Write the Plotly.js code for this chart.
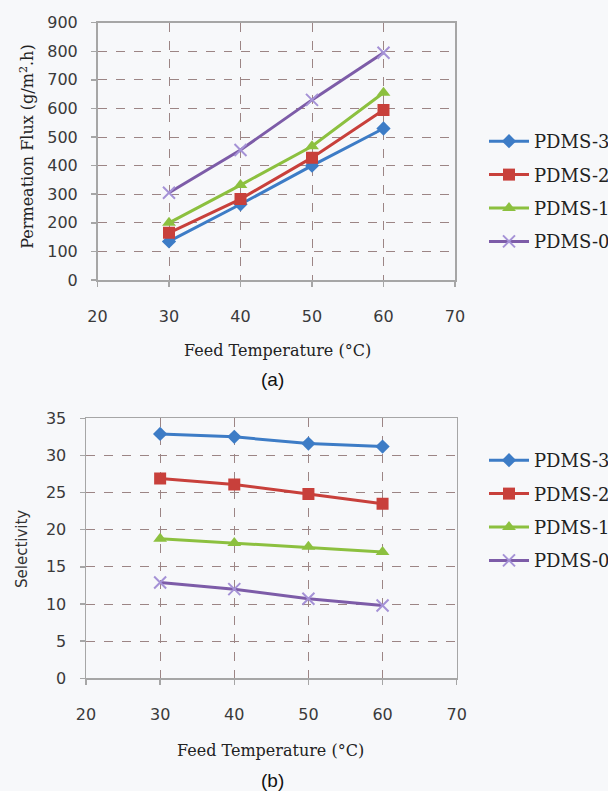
<!DOCTYPE html>
<html>
<head>
<meta charset="utf-8">
<script src="https://cdn.plot.ly/plotly-3.0.1.min.js"></script>
<style>
  html, body { margin: 0; padding: 0; background: #f7f8fa; }
  #chart { width: 608px; height: 791px; }
</style>
</head>
<body>
<div id="chart"></div>
<script>
// ---- Data ----
const temps = [30, 40, 50, 60];
const seriesNames = ["PDMS-3", "PDMS-2", "PDMS-1", "PDMS-0"];

const flux_pdms3 = [135, 265, 400, 530];
const flux_pdms2 = [165, 283, 428, 595];
const flux_pdms1 = [200, 332, 468, 655];
const flux_pdms0 = [305, 455, 630, 795];

const sel_pdms3 = [32.9, 32.5, 31.6, 31.2];
const sel_pdms2 = [26.9, 26.1, 24.8, 23.5];
const sel_pdms1 = [18.8, 18.2, 17.7, 17.0];
const sel_pdms0 = [12.9, 12.0, 10.7, 9.8];

const xTicks = [20, 30, 40, 50, 60, 70];

// ---- Styles ----
const colors = ["#3d7cc6", "#c8403b", "#8cc03f", "#7d5ca8"];
const markerStyles = [
  {symbol: "diamond", size: 11, color: colors[0]},
  {symbol: "square", size: 12, color: colors[1]},
  {symbol: "triangle-up", size: 12, color: colors[2]},
  {symbol: "x-thin-open", size: 12, color: "#a592d6", line: {color: "#a592d6", width: 2}}
];

const W = 608, H = 791;
const px = v => v / W;
const py = v => 1 - v / H;

const fluxData = [flux_pdms3, flux_pdms2, flux_pdms1, flux_pdms0];
const selData = [sel_pdms3, sel_pdms2, sel_pdms1, sel_pdms0];

const traces = [];
fluxData.forEach((ys, i) => {
  traces.push({
    x: temps, y: ys, name: seriesNames[i], type: "scatter", mode: "lines+markers",
    xaxis: "x", yaxis: "y", legend: "legend", legendgroup: "a" + i,
    line: {color: colors[i], width: 3},
    marker: markerStyles[i]
  });
});
selData.forEach((ys, i) => {
  traces.push({
    x: temps, y: ys, name: seriesNames[i], type: "scatter", mode: "lines+markers",
    xaxis: "x2", yaxis: "y2", legend: "legend2", legendgroup: "b" + i,
    line: {color: colors[i], width: 3},
    marker: markerStyles[i]
  });
});

const tickFont = {family: "DejaVu Sans", size: 16, color: "#3a3a3a"};
const gridColor = "#9c8585";
const axisLine = "#a6a6a6";

function xAxis(domain, anchor) {
  return {
    domain: domain, anchor: anchor, range: [20, 70], tickvals: xTicks,
    showgrid: true, gridcolor: gridColor, griddash: "dash", gridwidth: 1,
    showline: true, linecolor: axisLine, linewidth: 1.5, mirror: true,
    ticks: "outside", ticklen: 5, tickcolor: axisLine, tickwidth: 1.5,
    tickfont: tickFont, ticklabelstandoff: 16, zeroline: false, fixedrange: true,
    automargin: false
  };
}
function yAxis(domain, anchor, range, dtick) {
  return {
    domain: domain, anchor: anchor, range: range, dtick: dtick, tick0: 0,
    showgrid: true, gridcolor: gridColor, griddash: "dash", gridwidth: 1,
    showline: true, linecolor: axisLine, linewidth: 1.5, mirror: true,
    ticks: "outside", ticklen: 5, tickcolor: axisLine, tickwidth: 1.5,
    tickfont: tickFont, ticklabelstandoff: 10, zeroline: false, fixedrange: true,
    automargin: false
  };
}

const serif = "DejaVu Serif";
function legendAt(x, y) {
  return {
    x: x, y: y,
    font: {family: serif, size: 18, color: "#222"},
    bgcolor: "rgba(0,0,0,0)", borderwidth: 0,
    xanchor: "left", yanchor: "top", tracegroupgap: 7, traceorder: "grouped",
    itemwidth: 40
  };
}

function note(text, x, y, font, angle) {
  return {text: text, xref: "paper", yref: "paper", x: px(x), y: py(y),
          xanchor: "center", yanchor: "middle", showarrow: false,
          textangle: angle || 0, font: font};
}
const serifFont = {family: serif, size: 16, color: "#222"};
const capFont = {family: "Liberation Sans", size: 19, color: "#111"};

const layout = {
  width: W, height: H,
  margin: {l: 0, r: 0, t: 0, b: 0, autoexpand: false},
  paper_bgcolor: "#f7f8fa", plot_bgcolor: "#f7f8fa",
  showlegend: true,
  xaxis: xAxis([px(97.5), px(455)], "y"),
  yaxis: yAxis([py(280), py(22.7)], "x", [0, 900], 100),
  xaxis2: xAxis([px(86), px(456.7)], "y2"),
  yaxis2: yAxis([py(678.3), py(418.3)], "x2", [0, 35], 5),
  legend: legendAt(px(484), py(123)),
  legend2: legendAt(px(484), py(442)),
  annotations: [
    note("Permeation Flux (g/m<sup>2</sup>.h)", 26.7, 147, serifFont, -90),
    note("Feed Temperature (°C)", 277, 350, serifFont),
    note("(a)", 272, 380, capFont),
    note("Selectivity", 22, 549, {family: "DejaVu Sans", size: 15, color: "#333"}, -90),
    note("Feed Temperature (°C)", 270, 750, serifFont),
    note("(b)", 272, 780, capFont)
  ]
};

Plotly.newPlot("chart", traces, layout, {displayModeBar: false, staticPlot: true});
</script>
</body>
</html>
